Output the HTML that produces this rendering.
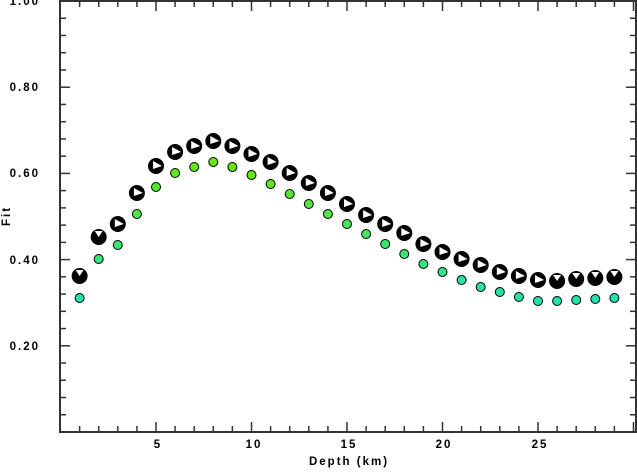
<!DOCTYPE html>
<html><head><style>
body{margin:0;background:#fff}
svg text{font-family:"Liberation Sans",sans-serif;font-weight:bold;font-size:11.5px;letter-spacing:2px;fill:#000}
</style></head><body>
<svg id="s" width="637" height="468" xmlns="http://www.w3.org/2000/svg">
<rect x="60" y="1" width="576" height="431" fill="none" stroke="#333" stroke-width="2"/>
<g id="g"></g>
<text x="40" y="5" text-anchor="end">1.00</text>
<text x="40" y="91" text-anchor="end">0.80</text>
<text x="40" y="177" text-anchor="end">0.60</text>
<text x="40" y="264" text-anchor="end">0.40</text>
<text x="40" y="350" text-anchor="end">0.20</text>
<text x="158" y="448" text-anchor="middle">5</text>
<text x="254" y="448" text-anchor="middle">10</text>
<text x="349" y="448" text-anchor="middle">15</text>
<text x="444" y="448" text-anchor="middle">20</text>
<text x="540" y="448" text-anchor="middle">25</text>
<text x="349" y="465" text-anchor="middle">Depth (km)</text>
<text transform="translate(10,216) rotate(-90)" text-anchor="middle">Fit</text>
</svg>
<script>
var g=document.getElementById('g'),h='';
function L(a,b,c,d){h+='<line x1="'+a+'" y1="'+b+'" x2="'+c+'" y2="'+d+'" stroke="#333" stroke-width="1.5"/>';}
for(var d=1;d<=30;d++){var x=60.5+19.1*d;if(x>634)break;var l=d%5==0?10:6;L(x,432,x,432-l);L(x,1,x,1+l);}
for(var i=1;i<25;i++){var y=432-i*17.24;var l=i%5==0?10:6;L(60,y,60+l,y);L(636,y,636-l,y);}
var bb=[276,237,224,193,166,152,146,141,146,154,162,173,183,193,204,215,224,233,244,252,259,265,272,276,280,281,279,278,277];
var gr=[298,259,245,214,187,173,167,162,167,175,184,194,204,214,224,234,244,254,264,272,280,287,292,297,301,301,300,299,298];
for(var k=0;k<29;k++){var x=60.5+19.1*(k+1);
var f=(432-gr[k])/431;var t=Math.min(1,Math.max(0,(f-0.3)/0.32));
var r=Math.round(32+t*70),gg=Math.round(226+t*4),b=Math.round(176-t*160);
h+='<circle cx="'+x+'" cy="'+gr[k]+'" r="4.5" fill="rgb('+r+','+gg+','+b+')" stroke="#000" stroke-width="1"/>';
var y=bb[k];
h+='<circle cx="'+x+'" cy="'+y+'" r="8.5" fill="#000" stroke="#fff" stroke-width="1"/>';
if(k<2||k>24){h+='<path d="M'+(x-4)+' '+(y-6)+' L'+(x+4)+' '+(y-6)+' L'+x+' '+(y)+'Z" fill="#fff"/>';}
else{h+='<path d="M'+(x-3)+' '+(y-5)+' L'+(x+6)+' '+(y)+' L'+(x-3)+' '+(y+3)+'Z" fill="#fff"/>';}
}
g.innerHTML=h;
</script>
</body></html>
